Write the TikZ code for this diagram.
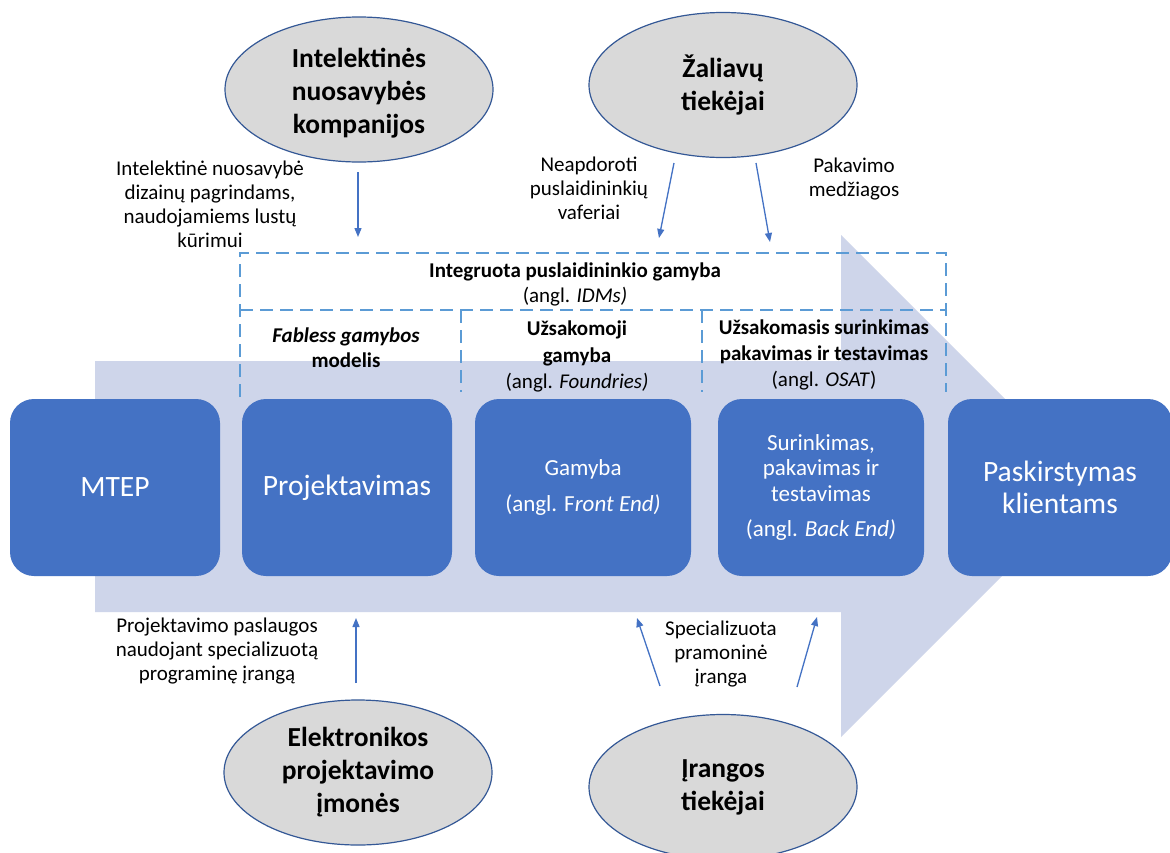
\documentclass[tikz,border=0pt]{standalone}
\usepackage{fontspec}
\setmainfont{Carlito}
\usetikzlibrary{arrows.meta,shapes.geometric}
\definecolor{boxblue}{RGB}{68,114,196}
\definecolor{bandblue}{RGB}{206,213,234}
\definecolor{ellgray}{RGB}{217,217,217}
\definecolor{ellline}{RGB}{52,88,150}
\definecolor{dashblue}{RGB}{91,155,213}
\definecolor{arrblue}{RGB}{68,114,196}
\begin{document}
\begin{tikzpicture}[x=1pt,y=-1pt,
  ell/.style={ellipse, draw=ellline, line width=1.2pt, fill=ellgray, minimum width=268pt, minimum height=145pt, inner sep=0pt, align=center, font=\fontsize{27.5}{33}\selectfont\bfseries},
  etxt/.style={align=center, inner sep=0pt, font=\fontsize{27.5}{33}\selectfont\bfseries},
  blk/.style={rounded corners=24pt, fill=boxblue, text=white, align=center, inner sep=0pt, minimum height=177pt},
  bigtxt/.style={font=\fontsize{29.5}{32}\selectfont},
  smalltxt/.style={font=\fontsize{23}{25.5}\selectfont},
  lbl/.style={align=center, inner sep=0pt, font=\fontsize{21}{24}\selectfont},
  flow/.style={draw=arrblue, line width=1.3pt, -{Triangle[length=9pt,width=7pt]}},
  dline/.style={draw=dashblue, line width=2.8pt, dash pattern=on 13pt off 7pt},
]
\useasboundingbox (0,0) rectangle (1170,852);
\fill[white] (0,0) rectangle (1170,852);
% big flow arrow
\fill[bandblue] (95,361) -- (841,361) -- (841,235) -- (1092,486) -- (841,737) -- (841,612) -- (95,612) -- cycle;

% dashed frames
\draw[dline] (240,397) -- (240,253) -- (946,253) -- (946,392);
\draw[dline] (240,310) -- (946,310);
\draw[dline] (461,310) -- (461,392);
\draw[dline] (702,310) -- (702,392);

% ellipses
\node[ell] (ipc) at (359,89.5) {};
\node[etxt] (ipct) at (359,93.5) {Intelektinės\\nuosavybės\\kompanijos};
\node[ell] (raw) at (723,85) {Žaliavų\\tiekėjai};
\node[ell] (eda) at (358,772.5) {Elektronikos\\projektavimo\\įmonės};
\node[ell] (equ) at (723,787) {Įrangos\\tiekėjai};

% blocks
\node[blk, bigtxt, minimum width=210pt] (mtep) at (115,487.5) {MTEP};
\node[blk, bigtxt, minimum width=210pt] (proj) at (347,487.5) {Projektavimas};
\node[blk, smalltxt, minimum width=216pt] (gam) at (583,487.5) {Gamyba\\[11pt](angl. F\textit{ront End)}};
\node[blk, smalltxt, minimum width=206pt] (sur) at (821,487.5) {Surinkimas,\\pakavimas ir\\testavimas\\[10pt](angl. \textit{Back End)}};
\node[blk, bigtxt, minimum width=224pt] (pas) at (1060,487.5) {Paskirstymas\\klientams};

% labels
\node[lbl] (lip) at (210,204.5) {Intelektinė nuosavybė\\dizainų pagrindams,\\naudojamiems lustų\\kūrimui};
\node[lbl] (lwaf) at (589,188) {Neapdoroti\\puslaidininkių\\vaferiai};
\node[lbl] (lpak) at (854,179.5) {Pakavimo\\medžiagos};
\node[lbl] (lidm) at (575,284.5) {\textbf{Integruota puslaidininkio gamyba}\\[1pt](angl. \textit{IDMs)}};
\node[lbl] (lfab) at (346,347.5) {\textbf{\textit{Fabless gamybos}}\\[1pt]\textbf{modelis}};
\node[lbl] (lfou) at (577,356.5) {\textbf{Užsakomoji}\\[2.5pt]\textbf{gamyba}\\[2.5pt](angl. \textit{Foundries)}};
\node[lbl] (losa) at (824,354.5) {\textbf{Užsakomasis surinkimas}\\[2pt]\textbf{pakavimas ir testavimas}\\[2pt](angl. \textit{OSAT})};
\node[lbl] (lpro) at (217,651.5) {Projektavimo paslaugos\\naudojant specializuotą\\programinę įrangą};
\node[lbl] (lspe) at (721,654) {Specializuota\\pramoninė\\įranga};

% connectors
\coordinate (ip1) at (358,172); \coordinate (ip2) at (358,237);
\coordinate (w1) at (674,163);  \coordinate (w2) at (659,238);
\coordinate (p1) at (756,163);  \coordinate (p2) at (770,242);
\coordinate (e1) at (356,683);  \coordinate (e2) at (356,618);
\coordinate (s1) at (660,686);  \coordinate (s2) at (637,618);
\coordinate (t1) at (797,687);  \coordinate (t2) at (817,617);
\draw[flow] (ip1) -- (ip2);
\draw[flow] (w1) -- (w2);
\draw[flow] (p1) -- (p2);
\draw[flow] (e1) -- (e2);
\draw[flow] (s1) -- (s2);
\draw[flow] (t1) -- (t2);
\end{tikzpicture}
\end{document}
